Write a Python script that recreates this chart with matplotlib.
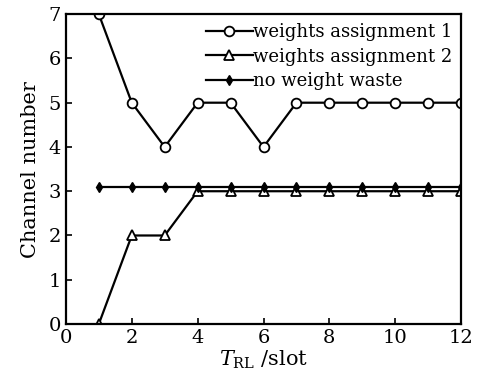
import numpy as np
import matplotlib as mpl
import matplotlib.pyplot as plt

plt.rcParams.update({
    'font.family': 'serif',
    'font.serif': ['DejaVu Serif'],
    'mathtext.fontset': 'dejavuserif',
    'xtick.direction': 'in',
    'ytick.direction': 'in',
    'xtick.labelsize': 14,
    'ytick.labelsize': 14,
    'axes.labelsize': 15,
})

# data
t_rl = [1, 2, 3, 4, 5, 6, 7, 8, 9, 10, 11, 12]
assign1 = [7, 5, 4, 5, 5, 4, 5, 5, 5, 5, 5, 5]
assign2 = [0, 2, 2, 3, 3, 3, 3, 3, 3, 3, 3, 3]
no_waste = [3.1] * 12

fig = plt.figure(figsize=(4.88, 3.83), dpi=100)
ax = fig.add_axes([0.135, 0.154, 0.81, 0.809])

ax.plot(t_rl, assign1, color='black', lw=1.6, marker='o', ms=7,
        mfc='white', mec='black', mew=1.3, label='weights assignment 1')
ax.plot(t_rl, assign2, color='black', lw=1.6, marker='^', ms=7.5,
        mfc='white', mec='black', mew=1.3, label='weights assignment 2')
ax.plot(t_rl, no_waste, color='black', lw=1.6, marker='d', ms=5,
        mfc='black', mec='black', label='no weight waste')

ax.set_xlim(0, 12)
ax.set_ylim(0, 7)
ax.set_xticks(np.arange(0, 13, 2))
ax.set_yticks(np.arange(0, 8, 1))
ax.tick_params(top=False, right=False, length=4, width=1.2)
for s in ax.spines.values():
    s.set_linewidth(1.6)

ax.set_xlabel(r'$T_{\rm RL}$ /slot', labelpad=1)
ax.set_ylabel('Channel number', labelpad=6)

ax.legend(loc='upper right', frameon=False, fontsize=13, handlelength=2.6,
          borderaxespad=0.2, handletextpad=0.0, labelspacing=0.35,
          borderpad=0.3)

plt.savefig('out.png')
